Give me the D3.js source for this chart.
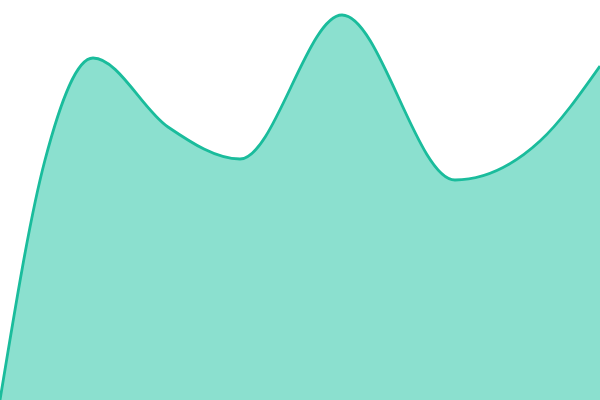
<!DOCTYPE html>
<html>
<head>
<meta charset="utf-8">
<script src="https://cdn.jsdelivr.net/npm/d3@7"></script>
<style>
html,body{margin:0;padding:0;background:#fff;overflow:hidden;}
svg{display:block;}
</style>
</head>
<body>
<svg id="chart" width="600" height="400"></svg>
<script>
const xValues = [0, 45, 93, 168, 240, 342, 455, 540, 600];
const yValues = [0, 240, 342, 273, 241, 385, 220, 259, 334];

const W = 600, H = 400;
const data = xValues.map((x, i) => ({x, y: yValues[i]}));
const x = d3.scaleLinear().domain([0, 600]).range([0, W]);
const y = d3.scaleLinear().domain([0, 400]).range([H, 0]);

const svg = d3.select("#chart");
const curve = d3.curveMonotoneX;
const area = d3.area().x(d => x(d.x)).y0(y(0)).y1(d => y(d.y)).curve(curve);
const line = d3.line().x(d => x(d.x)).y(d => y(d.y)).curve(curve);

svg.append("path").datum(data).attr("d", area).attr("fill", "#8be0cf");
svg.append("path").datum(data).attr("d", line).attr("fill", "none")
  .attr("stroke", "#1abc9c").attr("stroke-width", 2.8);
</script>
</body>
</html>
